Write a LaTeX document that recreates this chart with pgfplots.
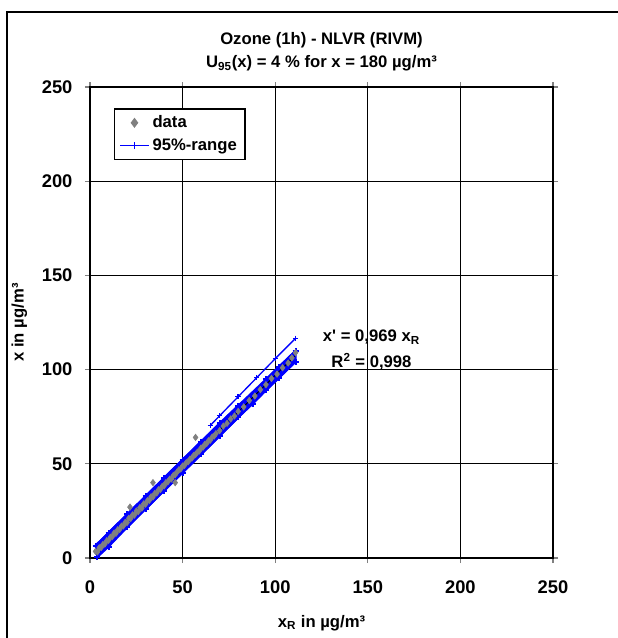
\documentclass[border=0pt]{standalone}
\usepackage{fontspec}
\setmainfont{Liberation Sans}
\usepackage{pgfplots}
\pgfplotsset{compat=1.18}
\definecolor{datagray}{RGB}{128,128,128}
\definecolor{rangeblue}{RGB}{0,0,255}
\begin{document}
\begin{tikzpicture}
\begin{axis}[
  scale only axis,
  width=277.8pt, height=282.6pt,
  xmin=0, xmax=250, ymin=0, ymax=250,
  xtick={0,50,...,250}, ytick={0,50,...,250},
  grid=major,
  major grid style={black, line width=0.5pt},
  axis line style={black, line width=1.2pt},
  tick align=outside,
  major tick length=3pt,
  tick style={gray, line width=0.8pt},
  /pgf/number format/assume math mode=true,
  ticklabel style={font=\fontsize{11}{13}\selectfont\bfseries},
  xticklabel style={yshift=-7pt},
  yticklabel style={xshift=-4pt},
  xlabel={x\textsubscript{R} in µg/m³},
  ylabel={x in µg/m³},
  label style={font=\fontsize{10}{12}\selectfont\bfseries},
  xlabel style={yshift=-6pt},
  ylabel style={yshift=2pt},
  title={Ozone (1h) - NLVR (RIVM)\\U\textsubscript{95}(x) = 4 \% for x = 180 µg/m³},
  title style={font=\fontsize{10}{14}\selectfont\bfseries, align=center},
  legend style={at={(rel axis cs:0.052,0.955)}, anchor=north west,
    draw=black, line width=0.8pt, font=\fontsize{10}{12}\selectfont\bfseries,
    inner xsep=3pt, inner ysep=2pt, row sep=1pt},
  legend cell align=left,
]
\addlegendimage{only marks, mark=diamond*, mark size=2.4pt, color=datagray}
\addlegendentry{data}
\addlegendimage{rangeblue, line width=0.6pt, mark=+, mark size=2pt}
\addlegendentry{95\%-range}

% 95%-range: dense band of bounds
\addplot[forget plot, fill=rangeblue, draw=rangeblue, line width=1.2pt] coordinates {
  (3,6.6) (20,23.1) (40,42.5) (60,61.8) (80,80.8) (95,94.8) (111,110.0)
  (111,104.2) (95,89.0) (80,74.6) (60,55.0) (40,35.7) (20,16.3) (4,0.6)
} -- cycle;
\addplot[forget plot, rangeblue, line width=1.2pt, mark=+, mark size=1.8pt] coordinates {
  (3,6.6) (10,13.4) (20,23.1) (30,32.8) (40,42.5) (50,52.2) (60,61.8) (70,71.5) (80,80.8) (88,87.3) (95,94.8) (102,101.5) (111,110.0)
};
\addplot[forget plot, rangeblue, line width=1.2pt, mark=+, mark size=1.8pt] coordinates {
  (4,0.6) (10,6.0) (20,16.3) (30,26.0) (40,35.7) (50,45.3) (60,55.0) (70,64.7) (80,74.6) (88,82.0) (95,89.0) (102,95.6) (111,104.2)
};
% isolated upper bound at the top end
\addplot[forget plot, rangeblue, line width=0.8pt, mark=+, mark size=1.6pt] coordinates {
  (65,70.4) (70,75.5) (80,85.6) (90,95.7) (100,105.8) (111,116.6)
};

% data
\addplot[forget plot, only marks, mark=diamond*, mark size=1.9pt, color=datagray] coordinates {
  (3,3.5) (4,3.2) (5,5.4) (6,5.5) (7,7.2) (8,7.4) (9,9.1) (10,9.4) (11,11.0) (12,11.3)
  (13,13.2) (14,13.1) (15,15.0) (16,15.2) (17,16.9) (18,17.0) (19,18.9) (20,18.8)
  (21,21.1) (21.6,27.0) (22,21.0) (23,22.9) (24,22.8) (25,24.9) (26,24.6) (27,26.8)
  (28,26.5) (29,28.7) (30,28.6) (31,30.4) (32,30.6) (33,32.5) (34,40.0) (34,32.4)
  (35,34.3) (36,34.5) (37,36.2) (38,36.4) (39,38.0) (40,38.3) (41,40.0) (42,40.4)
  (43,41.8) (44,42.0) (45,43.8) (46,40.0) (46,44.3) (47,45.6) (48,46.8) (49,47.3)
  (50,48.8) (51,49.2) (52,50.6) (53,51.1) (54,52.5) (55,53.0) (56,54.4) (57,64.0)
  (57,55.0) (58,56.2) (59,56.8) (60,58.4) (61,58.8) (62,60.3) (63,60.8) (64,62.2)
  (65,62.6) (66,64.2) (67,64.7) (68,66.0) (70,67.6) (72,70.0) (74,71.5) (76,73.8)
  (78,75.4) (80,77.8) (83,80.2) (86,83.6) (89,86.0) (92,89.4) (95,92.0) (98,95.3)
  (101,97.6) (104,101.0) (107,103.5) (109,106.2) (111,109.0)
};

% regression line
\addplot[forget plot, black, line width=0.5pt] coordinates {(3,2.9) (111,107.6)};

\node[font=\fontsize{10}{12}\selectfont\bfseries] at (axis cs:152,117.3) {x\textquotesingle{} = 0,969 x\textsubscript{R}};
\node[font=\fontsize{10}{12}\selectfont\bfseries] at (axis cs:152,104.0) {R\textsuperscript{2} = 0,998};

\coordinate (bl) at (rel axis cs:0,0);
\coordinate (tr) at (rel axis cs:1,1);
\end{axis}
\draw[black, line width=0.9pt] ([shift={(-49.8pt,-70pt)}]bl) rectangle ([shift={(60pt,45pt)}]tr);
\pgfresetboundingbox
\path ([shift={(-54pt,-48pt)}]bl) rectangle ([shift={(39pt,52.2pt)}]tr);
\end{tikzpicture}
\end{document}
